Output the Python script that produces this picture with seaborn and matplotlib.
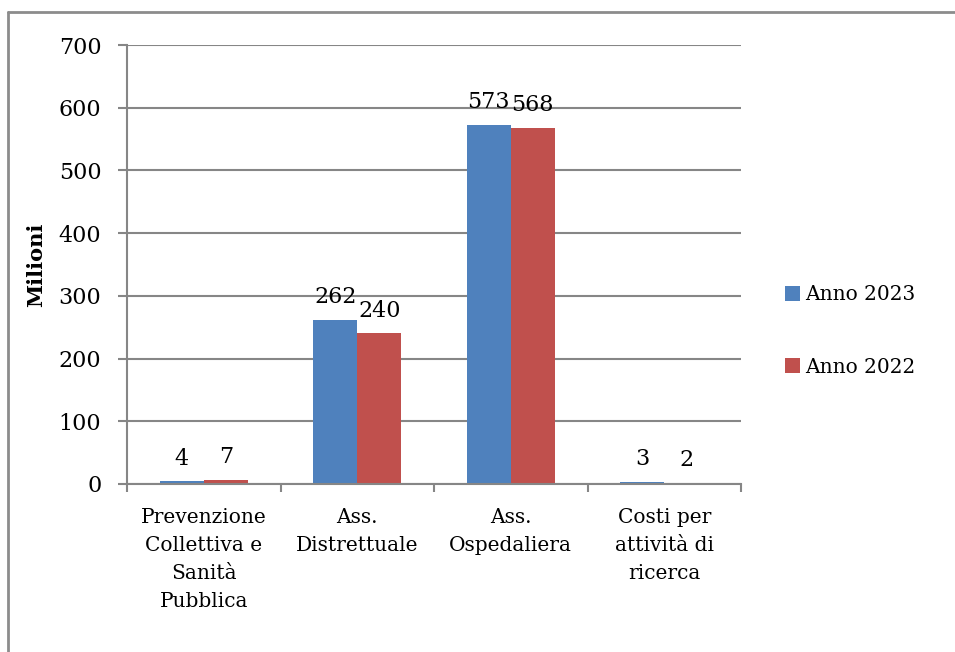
import numpy as np
import pandas as pd
import seaborn as sns
import matplotlib.pyplot as plt
from matplotlib.lines import Line2D

# values (milioni)
categories = ["Prevenzione\nCollettiva e\nSanità\nPubblica", "Ass.\nDistrettuale",
              "Ass.\nOspedaliera", "Costi per\nattività di\nricerca"]
anno_2023 = [4, 262, 573, 3]
anno_2022 = [7, 240, 568, 2]
series = ["Anno 2023", "Anno 2022"]

df = pd.DataFrame({
    "categoria": categories * 2,
    "valore": anno_2023 + anno_2022,
    "serie": [series[0]] * len(categories) + [series[1]] * len(categories),
})

sns.set_theme(style="white")
plt.rcParams["font.family"] = ["DejaVu Serif"]
plt.rcParams["text.color"] = "black"
plt.rcParams["xtick.labelcolor"] = "black"
plt.rcParams["ytick.labelcolor"] = "black"
plt.rcParams["axes.labelcolor"] = "black"
grid_col = "#868686"

fig = plt.figure(figsize=(9.55, 6.52), dpi=100)
ax = fig.add_axes([127 / 955, 1 - 484 / 652, (741 - 127) / 955, (484 - 45) / 652])

sns.barplot(data=df, x="categoria", y="valore", hue="serie", hue_order=series,
            palette=["#4F81BD", "#C0504D"], width=0.574, saturation=1,
            gap=0, linewidth=0, ax=ax, legend=True)

for cont in ax.containers:
    ax.bar_label(cont, padding=8.5, fontsize=16, color="black")

ax.set_ylim(0, 700)
ax.set_xlim(-0.5, 3.5)
ax.set_yticks(range(0, 701, 100))
ax.yaxis.grid(True, color=grid_col, lw=1.5)
ax.set_axisbelow(True)
ax.set_xlabel("")
ax.set_ylabel("Milioni", fontsize=15, fontweight="bold", labelpad=9)
for s in ["top", "right"]:
    ax.spines[s].set_visible(False)
for s in ["left", "bottom"]:
    ax.spines[s].set_color(grid_col)
    ax.spines[s].set_linewidth(1.5)

ax.tick_params(axis="y", which="major", left=True, length=6.5, width=1.5, color=grid_col,
               labelsize=16, pad=12)
ax.tick_params(axis="x", which="major", length=0, labelsize=14.5, pad=17)
ax.set_xticks(np.arange(-0.5, 3.6, 1), minor=True)
ax.tick_params(axis="x", which="minor", bottom=True, length=6, width=1.5, color=grid_col)
for lab in ax.get_xticklabels():
    lab.set_linespacing(1.6)

handles, labels = ax.get_legend_handles_labels()
ax.legend(handles, labels, loc="center left", bbox_to_anchor=(767 / 955, 1 - 331 / 652),
          bbox_transform=fig.transFigure, frameon=False, fontsize=14.5,
          handlelength=0.75, handleheight=0.75, handletextpad=0.25, labelspacing=2.65)

# outer chart frame
fig.add_artist(Line2D([8 / 955, 1], [1 - 12 / 652] * 2, transform=fig.transFigure,
                      color="#8c8c8c", lw=2))
fig.add_artist(Line2D([8 / 955] * 2, [0, 1 - 12 / 652], transform=fig.transFigure,
                      color="#8c8c8c", lw=2))

fig.savefig("out.png", dpi=100)
